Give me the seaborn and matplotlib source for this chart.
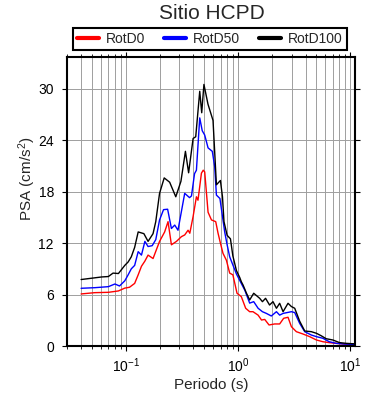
import matplotlib
matplotlib.use("Agg")
import matplotlib.pyplot as plt
from matplotlib.ticker import LogLocator, MultipleLocator
import seaborn as sns
import numpy as np
import pandas as pd

# spectra (period in s, PSA in cm/s2)
t_rotd0 = [0.040, 0.053, 0.070, 0.086, 0.098, 0.108, 0.120, 0.129, 0.138, 0.148,
           0.158, 0.175, 0.200, 0.222, 0.238, 0.255, 0.283, 0.313, 0.335, 0.359,
           0.372, 0.398, 0.426, 0.440, 0.472, 0.490, 0.505, 0.541, 0.580, 0.633,
           0.664, 0.697, 0.735, 0.788, 0.843, 0.900, 0.980, 1.07, 1.17, 1.27,
           1.36, 1.51, 1.62, 1.73, 1.89, 2.12, 2.35, 2.55, 2.79, 2.99,
           3.31, 3.79, 4.35, 5.00, 5.70, 6.50, 7.50, 8.90, 11.0]
psa_rotd0 = [6.07, 6.22, 6.26, 6.42, 6.75, 6.85, 7.3, 8.3, 9.3, 9.9,
             10.6, 10.2, 12.2, 13.3, 14.5, 11.8, 12.2, 12.75, 12.95, 13.5,
             13.15, 15.1, 17.4, 17.0, 20.15, 20.5, 20.3, 15.6, 14.7, 14.5,
             13.15, 12.0, 10.8, 10.0, 8.5, 8.3, 6.15, 5.76, 4.4, 4.0,
             4.0, 3.6, 3.03, 3.1, 2.45, 2.57, 2.57, 3.23, 3.35, 2.25,
             1.67, 1.4, 1.09, 0.7, 0.5, 0.39, 0.31, 0.23, 0.18]

t_rotd50 = [0.040, 0.053, 0.070, 0.080, 0.088, 0.098, 0.105, 0.112, 0.120, 0.129,
            0.138, 0.148, 0.158, 0.172, 0.185, 0.200, 0.217, 0.236, 0.255, 0.273,
            0.292, 0.335, 0.370, 0.385, 0.410, 0.426, 0.456, 0.480, 0.505, 0.541,
            0.590, 0.620, 0.642, 0.690, 0.727, 0.761, 0.800, 0.843, 0.900, 0.968,
            1.05, 1.15, 1.27, 1.38, 1.51, 1.65, 1.79, 1.98, 2.20, 2.35,
            2.52, 2.99, 3.20, 3.54, 3.93, 4.50, 5.00, 5.70, 6.50, 7.50, 8.90, 11.0]
psa_rotd50 = [6.73, 6.8, 6.92, 7.23, 7.0, 7.6, 8.3, 9.0, 9.4, 11.0,
              10.6, 12.2, 11.6, 11.7, 12.4, 14.7, 15.9, 15.95, 13.7, 14.1,
              13.5, 17.8, 17.3, 17.5, 20.1, 20.5, 26.6, 25.1, 24.6, 23.1,
              22.7, 20.9, 17.6, 17.2, 15.1, 13.3, 11.8, 10.4, 9.45, 8.4,
              7.5, 6.5, 5.0, 5.17, 4.4, 4.0, 3.8, 3.5, 4.0, 3.6,
              3.8, 4.0, 3.9, 2.65, 1.67, 1.28, 1.09, 0.9, 0.5, 0.31, 0.23, 0.18]

t_rotd100 = [0.040, 0.053, 0.061, 0.070, 0.077, 0.086, 0.098, 0.105, 0.112, 0.120,
             0.129, 0.145, 0.158, 0.175, 0.185, 0.200, 0.220, 0.246, 0.279, 0.310,
             0.340, 0.363, 0.398, 0.420, 0.456, 0.475, 0.497, 0.540, 0.599, 0.642,
             0.697, 0.727, 0.750, 0.800, 0.856, 0.900, 0.968, 1.035, 1.07, 1.11,
             1.19, 1.27, 1.38, 1.56, 1.65, 1.76, 1.91, 2.05, 2.20, 2.35,
             2.52, 2.79, 2.99, 3.20, 3.54, 3.93, 4.50, 5.00, 5.50, 6.10,
             7.00, 8.00, 9.20, 11.0]
psa_rotd100 = [7.75, 7.95, 8.05, 8.1, 8.5, 8.45, 9.4, 9.8, 10.4, 11.5,
               13.3, 13.1, 12.2, 13.1, 14.5, 17.8, 19.6, 19.1, 17.4, 19.2,
               22.7, 20.2, 24.2, 24.4, 29.7, 27.2, 30.5, 28.2, 26.3, 18.8,
               19.3, 17.4, 14.5, 12.9, 12.5, 10.5, 8.8, 8.0, 7.5, 7.1,
               6.15, 5.37, 6.15, 5.56, 5.17, 5.56, 4.78, 5.17, 4.4, 4.98,
               4.0, 4.98, 4.6, 4.4, 2.9, 1.75, 1.67, 1.48, 1.2, 0.85,
               0.7, 0.4, 0.31, 0.25]

series = ["RotD0", "RotD50", "RotD100"]
colors = {"RotD0": "red", "RotD50": "blue", "RotD100": "black"}

df = pd.concat([
    pd.DataFrame({"Periodo": t_rotd0, "PSA": psa_rotd0, "serie": "RotD0"}),
    pd.DataFrame({"Periodo": t_rotd50, "PSA": psa_rotd50, "serie": "RotD50"}),
    pd.DataFrame({"Periodo": t_rotd100, "PSA": psa_rotd100, "serie": "RotD100"}),
])

sns.set_style("ticks")
plt.rcParams["font.family"] = ["Liberation Sans", "DejaVu Sans"]
plt.rcParams["mathtext.default"] = "regular"

fig = plt.figure(figsize=(3.9, 4.0), dpi=100)
ax = fig.add_axes([0.172, 0.135, 0.738, 0.7225])

sns.lineplot(data=df, x="Periodo", y="PSA", hue="serie", hue_order=series,
             palette=colors, estimator=None, lw=1.0, ax=ax)

ax.set_xscale("log")
ax.set_xlim(0.03, 11)
ax.set_ylim(0, 33.7)
ax.yaxis.set_major_locator(MultipleLocator(6))
ax.xaxis.set_major_locator(LogLocator(base=10))
ax.xaxis.set_minor_locator(LogLocator(base=10, subs=np.arange(2, 10)))
ax.grid(True, which="both", axis="x", color="0.62", lw=0.7)
ax.grid(True, which="major", axis="y", color="0.62", lw=0.7)
ax.set_axisbelow(True)

ax.tick_params(which="both", direction="out", top=True, right=True,
               labeltop=False, labelright=False, colors="black")
ax.tick_params(which="major", length=3.5, width=0.8, labelsize=10)
ax.tick_params(which="minor", length=2, width=0.6)
ax.tick_params(axis="x", which="major", pad=4)
ax.tick_params(axis="y", which="major", pad=6)
for s in ax.spines.values():
    s.set_linewidth(1.5)
    s.set_color("black")

ax.set_xlabel("Periodo (s)", fontsize=11, labelpad=2)
ax.set_ylabel("PSA (cm/s$^{2}$)", fontsize=11)
ax.yaxis.set_label_coords(-0.10, 0.578)

fig.text(0.543, 0.967, "Sitio HCPD", fontsize=15, ha="center", va="center")

handles, labels = ax.get_legend_handles_labels()
ax.get_legend().remove()
leg = fig.legend(handles, labels, loc="lower left",
                 bbox_to_anchor=(73 / 390, 1 - 50 / 400, 274 / 390, 22 / 400),
                 mode="expand", ncol=3, frameon=True, fancybox=False,
                 edgecolor="black", framealpha=1, borderaxespad=0,
                 fontsize=10, handlelength=1.6, handletextpad=0.5,
                 borderpad=0.3)
leg.get_frame().set_linewidth(1.5)
for h in leg.legend_handles:
    h.set_linewidth(3)

fig.savefig("out.png", dpi=100)
